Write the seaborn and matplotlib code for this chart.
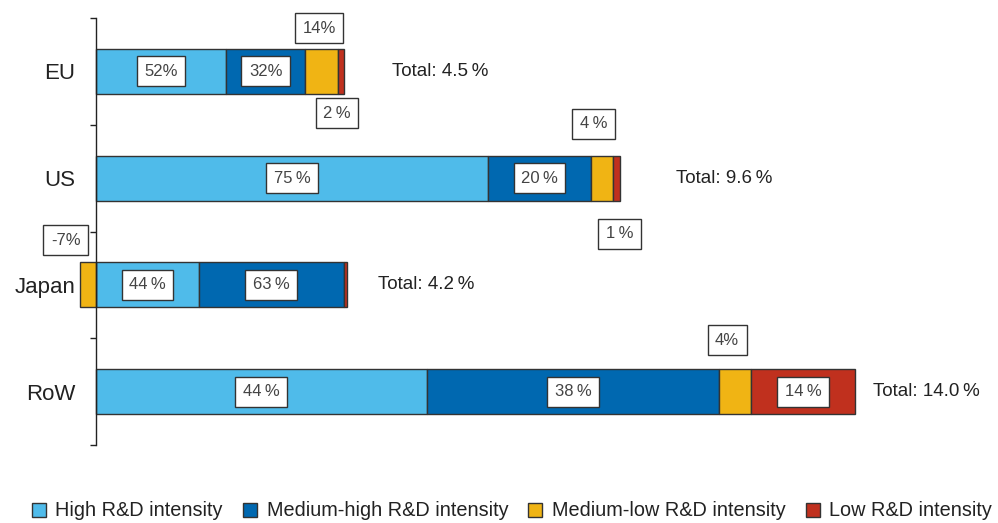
import pandas as pd
import matplotlib.pyplot as plt
import matplotlib.patches as mpatches
import seaborn as sns

regions = ["EU", "US", "Japan", "RoW"]
segments = ["High R&D intensity", "Medium-high R&D intensity",
            "Medium-low R&D intensity", "Low R&D intensity"]

# contribution to growth (percentage points)
high = [2.40, 7.23, 1.90, 6.10]
med_high = [1.46, 1.90, 2.67, 5.40]
med_low = [0.61, 0.41, -0.30, 0.59]
low = [0.11, 0.13, 0.06, 1.91]

totals = ["4.5", "9.6", "4.2", "14.0"]

# share labels shown on the chart
lab_high = ["52%", "75\u2009%", "44\u2009%", "44\u2009%"]
lab_med_high = ["32%", "20\u2009%", "63\u2009%", "38\u2009%"]
lab_med_low = ["14%", "4\u2009%", "-7%", "4%"]
lab_low = ["2\u2009%", "1\u2009%", None, "14\u2009%"]

colors = ["#4FBBEA", "#0068B0", "#F0B414", "#C0301E"]
edge = "#333333"

sns.set_theme(style="white")
plt.rcParams["font.family"] = ["Liberation Sans", "DejaVu Sans"]

df = pd.DataFrame({"region": regions, "high": high, "med_high": med_high,
                   "med_low": med_low, "low": low})

# stacking: positives stack from 0, negatives go left of 0
df["left_high"] = 0.0
df["left_med_high"] = df["high"]
df["left_med_low"] = [h + m if ml >= 0 else 0.0
                      for h, m, ml in zip(df["high"], df["med_high"], df["med_low"])]
df["left_low"] = df["high"] + df["med_high"] + df["med_low"].clip(lower=0)

fig = plt.figure(figsize=(9.98, 5.23), dpi=100)
ax = fig.add_axes([96 / 998, 78 / 523, 902 / 998, 427 / 523])

cols = ["high", "med_high", "med_low", "low"]
for col, c in zip(cols, colors):
    sns.barplot(data=df, x=col, y="region", orient="h", left=df["left_" + col].values,
                color=c, saturation=1, edgecolor=edge, linewidth=1, width=0.42, ax=ax,
                clip_on=False)

ax.set_xlim(0, 902 / 54.21)
ax.set_ylim(3.5, -0.5)
ax.set_xlabel("")
ax.set_ylabel("")
ax.set_xticks([])
for s in ["top", "right", "bottom"]:
    ax.spines[s].set_visible(False)
ax.spines["left"].set_color("#222222")
ax.spines["left"].set_linewidth(1)
ax.set_yticks(range(len(regions)))
ax.set_yticklabels(regions, fontsize=16, color="#222222")
ax.set_yticks([-0.5, 0.5, 1.5, 2.5, 3.5], minor=True)
ax.tick_params(axis="y", which="major", length=0, pad=15)
ax.tick_params(axis="y", which="minor", left=True, length=4, width=1, color="#222222")

box = dict(boxstyle="square,pad=0.45", fc="white", ec=edge, lw=1)
txt = dict(fontsize=12, color="#444444", ha="center", va="center", bbox=box)

# where labels of thin segments go (offset in points from segment centre)
outside = {("EU", "med_low"): (-2, 31), ("EU", "low"): (-3, -30),
           ("US", "med_low"): (-6, 39), ("US", "low"): (2, -40),
           ("Japan", "med_low"): (-16, 32), ("RoW", "med_low"): (-6, 37)}
total_offset = [34, 40, 22, 13]

labels = {"high": lab_high, "med_high": lab_med_high,
          "med_low": lab_med_low, "low": lab_low}
for i, r in enumerate(regions):
    for col in cols:
        lab = labels[col][i]
        if lab is None:
            continue
        cx = df["left_" + col][i] + df[col][i] / 2
        off = outside.get((r, col), (0, 0))
        ax.annotate(lab, xy=(cx, i), xytext=off, textcoords="offset points",
                    annotation_clip=False, **txt)
    end = df["left_low"][i] + df["low"][i]
    ax.annotate(f"Total: {totals[i]}\u2009%", xy=(end, i),
                xytext=(total_offset[i], 0), textcoords="offset points",
                ha="left", va="center", fontsize=13.5, color="#222222")

handles = [mpatches.Patch(facecolor=c, edgecolor=edge, linewidth=1, label=s)
           for c, s in zip(colors, segments)]
fig.legend(handles=handles, loc="center", bbox_to_anchor=(512 / 998, 12 / 523),
           ncol=4, frameon=False, fontsize=14.3, handlelength=0.7, handleheight=0.7,
           handletextpad=0.5, columnspacing=1.0, labelcolor="#222222")

fig.savefig("out.png", dpi=100)
